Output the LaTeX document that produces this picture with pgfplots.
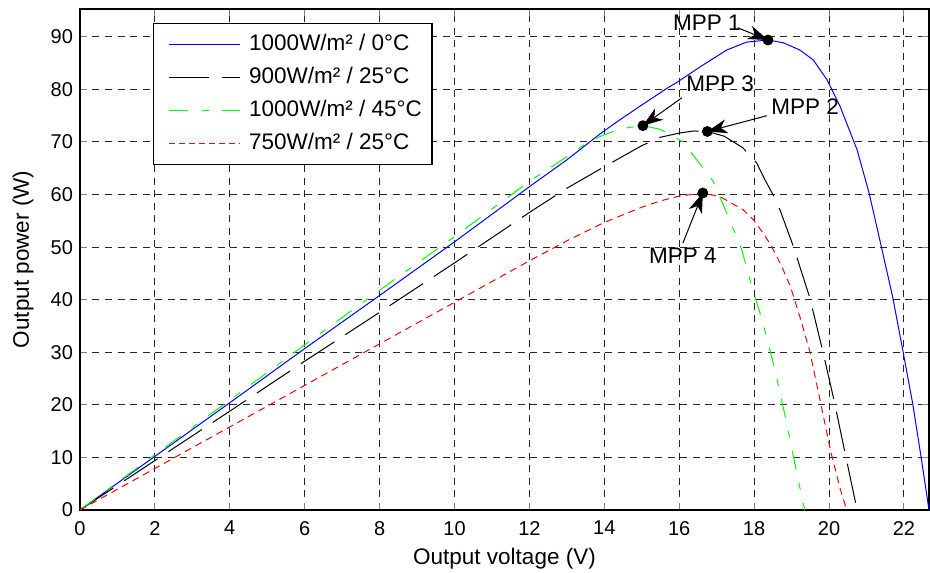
\documentclass[border=0pt]{standalone}
\usepackage{fontspec}
\setmainfont{Liberation Sans}
\usepackage{pgfplots}
\pgfplotsset{compat=1.18}
\usetikzlibrary{arrows.meta,calc}

\pgfplotstableread{
V P
0 0
2 10.2
4 20.4
6 30.7
8 40.8
10 51.0
12 61.5
13 66.6
13.88 71.5
14.33 73.8
14.95 76.8
15.67 80.2
15.93 81.3
16.56 84.3
17.27 87.5
17.8 89.0
18.37 89.4
18.77 88.9
19.22 87.5
19.58 85.6
19.95 81.8
20.3 76.7
20.75 68.5
21.07 60.3
21.4 50.0
21.7 40.5
21.98 30.0
22.24 20.0
22.46 10.0
22.67 0
}\tblblue

\pgfplotstableread{
V P
0 0
2 9.4
4 18.8
6 28.3
8 37.6
10 47.0
12 56.6
13 61.2
14 65.3
15 69.3
15.5 70.9
16 71.7
16.4 72.1
16.75 72.0
17.2 71.1
17.7 68.9
18.07 66.0
18.29 62.8
18.51 59.9
18.69 57.1
19.05 50.1
19.49 40.3
19.84 30.0
20.13 21.0
20.43 10.8
20.75 0
}\tblblack

\pgfplotstableread{
V P
0 0
2 10.5
4 20.9
6 31.4
8 41.8
10 52.0
12 62.5
13 67.2
13.57 70.0
14 71.4
14.5 72.6
15.03 73.1
15.5 72.4
16.1 70.0
16.37 67.5
16.91 62.5
17.31 55.8
17.67 49.5
17.94 42.5
18.2 36.5
18.56 26.6
18.87 16.5
19.14 7.0
19.35 0
}\tblgreen

\pgfplotstableread{
V P
0 0
2 7.9
4 15.8
6 23.7
8 31.6
10 39.5
12 47.4
13 51.2
14 54.7
15 57.6
15.5 58.8
16 59.7
16.63 60.3
17.09 59.6
17.71 57.1
17.98 55.2
18.25 52.6
18.47 50.1
18.74 46.3
18.97 42.5
19.22 36.8
19.49 30.1
19.76 20.9
20.05 11.0
20.3 4.0
20.47 0
}\tblred

\begin{document}
\begin{tikzpicture}
\begin{axis}[
  scale only axis, width=424.5pt, height=250.5pt,
  xmin=0, xmax=22.67, ymin=0, ymax=95.3,
  xtick={0,2,...,22}, ytick={0,10,...,90},
  tick align=inside, major tick length=3.5pt,
  axis line style={line width=0.8pt},
  tick style={line width=0.5pt},
  grid=major,
  grid style={black!85, dash pattern=on 3.5pt off 2.75pt, line width=0.5pt},
  ticklabel style={font=\fontsize{10}{12}\selectfont},
  xticklabel style={yshift=-2pt},
  /pgf/number format/assume math mode=true,
  xlabel={Output voltage (V)}, ylabel={Output power (W)},
  label style={font=\fontsize{11.25}{13}\selectfont},
  xlabel style={at={(axis description cs:0.5,-0.0978)}, anchor=center},
  ylabel style={at={(axis description cs:-0.0671,0.5)}, anchor=center},
  legend style={at={(axis description cs:0.086,0.972)}, anchor=north west,
    line width=0.6pt, fill=white,
    font=\fontsize{11.25}{13}\selectfont,
    cells={anchor=west}, inner xsep=3pt, inner ysep=3.25pt,
    row sep=2pt, column sep=2pt,
    nodes={inner sep=2pt, text height=8.2pt, text depth=2.3pt}},
  legend image code/.code={\path (0pt,0pt); \draw[#1] (4.5pt,0pt) -- (40pt,0pt);},
  legend entries={1000W/m² / 0°C, 900W/m² / 25°C, 1000W/m² / 45°C, 750W/m² / 25°C},
]
\addlegendimage{color=blue, line width=0.6pt}
\addlegendimage{color=black, line width=0.6pt, dash pattern=on 20pt off 6.5pt}
\addlegendimage{color=green, line width=0.6pt, dash pattern=on 9.5pt off 6.75pt on 3.5pt off 6.75pt}
\addlegendimage{color=red, line width=0.8pt, dash pattern=on 3pt off 2pt}

\addplot[color=blue, line width=0.5pt, forget plot] table[x=V,y=P] {\tblblue};
\addplot[color=black, line width=0.5pt, dash pattern=on 20pt off 6.5pt, forget plot] table[x=V,y=P] {\tblblack};
\addplot[color=green, line width=0.5pt, dash pattern=on 9.5pt off 6.75pt on 3.5pt off 6.75pt, forget plot] table[x=V,y=P] {\tblgreen};
\addplot[color=red, line width=0.5pt, dash pattern=on 3.5pt off 2.5pt, forget plot] table[x=V,y=P] {\tblred};

\addplot[only marks, mark=*, mark size=2.5pt, mark options={fill=black, draw=black}, forget plot] coordinates {
(18.37,89.4) (16.75,72.0) (15.03,73.1) (16.63,60.3)};

\node[font=\fontsize{11.25}{13}\selectfont] at (axis cs:16.74,92.7) {MPP 1};
\draw[-{Stealth[length=10pt,width=7pt,inset=3pt]}, line width=0.5pt] (axis cs:17.57,91.7) -- (axis cs:18.37,89.4);
\node[font=\fontsize{11.25}{13}\selectfont] at (axis cs:17.09,81.05) {MPP 3};
\draw[-{Stealth[length=10pt,width=7pt,inset=3pt]}, line width=0.5pt] (axis cs:16.07,78.4) -- (axis cs:15.03,73.1);
\node[font=\fontsize{11.25}{13}\selectfont] at (axis cs:19.36,76.7) {MPP 2};
\draw[-{Stealth[length=10pt,width=7pt,inset=3pt]}, line width=0.5pt] (axis cs:18.34,75.0) -- (axis cs:16.75,72.0);
\node[font=\fontsize{11.25}{13}\selectfont] at (axis cs:16.1,48.3) {MPP 4};
\draw[-{Stealth[length=10pt,width=7pt,inset=3pt]}, line width=0.5pt] (axis cs:16.1,50.8) -- (axis cs:16.63,60.3);

\coordinate (SW) at (rel axis cs:0,0);
\coordinate (NE) at (rel axis cs:1,1);
\end{axis}
\pgfresetboundingbox
\path ($(SW)+(-40pt,-31.5pt)$) rectangle ($(NE)+(0.5pt,4.5pt)$);
\end{tikzpicture}
\end{document}
